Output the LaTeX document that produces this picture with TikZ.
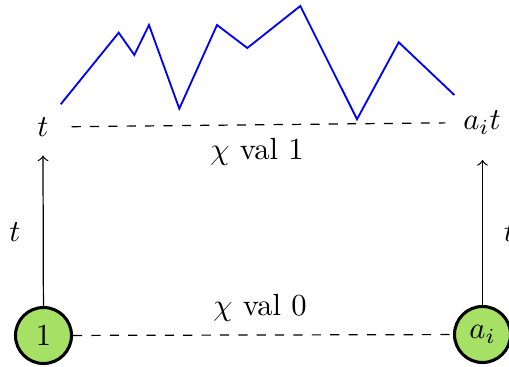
\documentclass[tikz,border=0pt]{standalone}
\definecolor{nodegreen}{RGB}{166,224,100}
\begin{document}
\begin{tikzpicture}[x=0.3267pt,y=-0.3267pt,
  vertex/.style={circle,draw,line width=1pt,fill=nodegreen,minimum size=18.3pt,inner sep=0pt},
  level/.style={dashed},
  walk/.style={blue,line width=0.6pt}]
\useasboundingbox (0,0) rectangle (509,367);
% nodes
\node[vertex] (one) at (43.5,335.5) {$1$};
\node[vertex] (ai) at (482.5,334.5) {$a_i$};
\node (t) at (43,127) {$t$};
\node (ait) at (482,122.5) {$a_it$};
\coordinate (tl) at (43,155.5);
\coordinate (tr) at (482.5,160);
% arrows
\draw[->] (one) -- (tl);
\draw[->] (ai) -- (tr);
\node (lt) at (15,232) {$t$};
\node (rt) at (509.5,232) {$t$};
% dashed levels
\draw[level,shorten <=4pt,shorten >=2.3pt] (t) -- (ait);
\draw[level] (one) -- (ai);
\node (v1) at (257,152) {$\chi$ val 1};
\node (v0) at (260,308) {$\chi$ val 0};
% random walk
\draw[walk] (60.7,104.3) -- (118.7,32.7) -- (134.3,55) -- (149,25) -- (179.3,108.7)
  -- (217,25) -- (247.3,48) -- (300.3,6) -- (357,119.3) -- (398.7,42.3) -- (454.3,95);
\end{tikzpicture}
\end{document}
